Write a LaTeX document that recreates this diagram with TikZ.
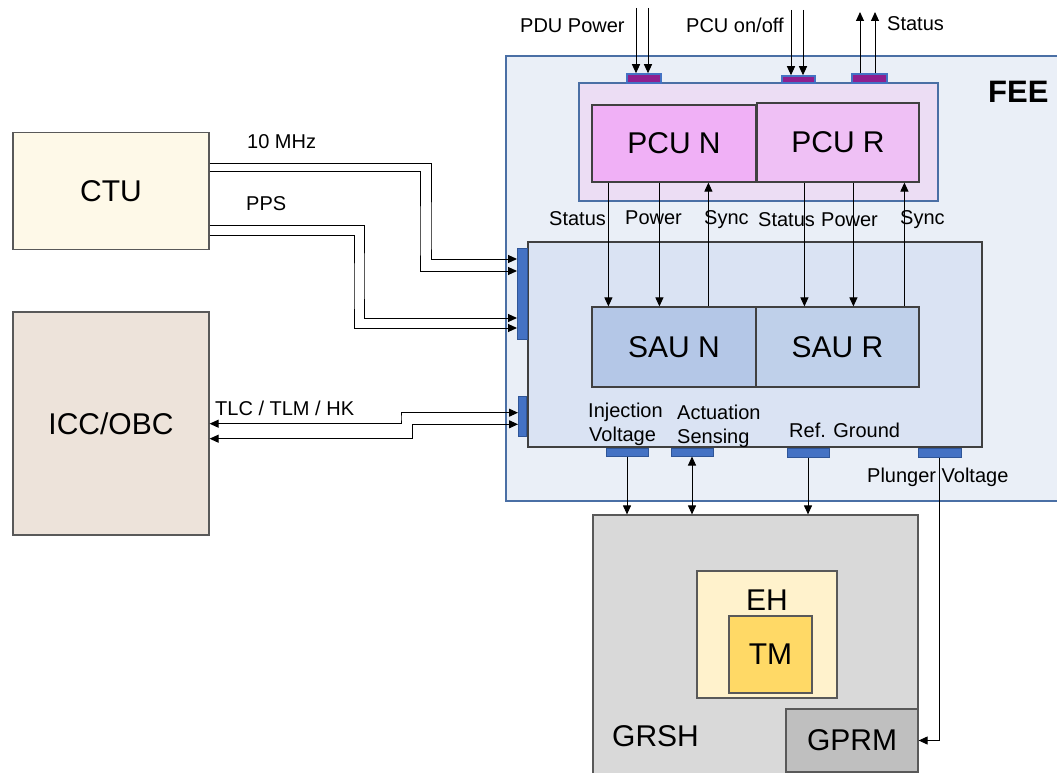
\documentclass[tikz,border=0pt]{standalone}
\usepackage{fontspec}
\setmainfont{Liberation Sans}
\usetikzlibrary{arrows.meta}
\definecolor{feefill}{HTML}{EAEFF7}
\definecolor{feeline}{HTML}{4A6FA5}
\definecolor{pcucfill}{HTML}{ECDDF4}
\definecolor{pcunfill}{HTML}{F0B0F6}
\definecolor{pcurfill}{HTML}{EFC0F5}
\definecolor{purp}{HTML}{8E1E8E}
\definecolor{conblue}{HTML}{4472C4}
\definecolor{conline}{HTML}{2F5597}
\definecolor{saucfill}{HTML}{DAE3F3}
\definecolor{saunfill}{HTML}{B4C7E7}
\definecolor{saurfill}{HTML}{BFD0EA}
\definecolor{ctufill}{HTML}{FEF9E8}
\definecolor{iccfill}{HTML}{EDE3DA}
\definecolor{grshfill}{HTML}{D9D9D9}
\definecolor{ehfill}{HTML}{FFF2CC}
\definecolor{tmfill}{HTML}{FFD966}
\definecolor{gprmfill}{HTML}{BFBFBF}
\definecolor{boxline}{HTML}{404040}
\definecolor{greyline}{HTML}{595959}
\begin{document}
\begin{tikzpicture}[x=1pt,y=-1pt,
  box/.style={draw=boxline, line width=1.2pt, inner sep=0pt, rectangle},
  big/.style={font=\fontsize{30}{36}\selectfont},
  lbl/.style={inner sep=0pt, anchor=base west, font=\fontsize{20}{24}\selectfont},
  pconn/.style={draw=conblue, fill=purp, line width=1.5pt, inner sep=0pt, rectangle},
  bconn/.style={draw=conline, fill=conblue, line width=1pt, inner sep=0pt, rectangle},
  arr/.style={line width=1pt, -{Triangle[length=9pt,width=8pt]}},
  darr/.style={line width=1pt, {Triangle[length=9pt,width=8pt]}-{Triangle[length=9pt,width=8pt]}},
]
\clip (0,0) rectangle (1057,773);
\fill[white] (0,0) rectangle (1057,773);

% left boxes
\node[box, draw=greyline, fill=ctufill, minimum width=196pt, minimum height=117pt, big] (ctu) at (111,191.3) {CTU};
\node[box, draw=greyline, fill=iccfill, minimum width=196pt, minimum height=223pt, big] (icc) at (111,423.4) {ICC/OBC};

% FEE
\node[draw=feeline, fill=feefill, line width=1.5pt, inner sep=0pt, minimum width=566pt, minimum height=445pt] (fee) at (789,278.5) {};
\node[anchor=base west, inner sep=0pt, font=\bfseries\fontsize{31}{36}\selectfont] (feelbl) at (988,103) {FEE};

% PCU
\node[draw=feeline, fill=pcucfill, line width=1.8pt, inner sep=0pt, minimum width=359pt, minimum height=118pt] (pcuc) at (758.5,142) {};
\node[box, fill=pcunfill, minimum width=164pt, minimum height=77pt, big] (pcun) at (674,143.5) {PCU N};
\node[box, fill=pcurfill, minimum width=162pt, minimum height=79pt, big] (pcur) at (838,142.5) {PCU R};

\node[pconn, minimum width=34pt, minimum height=9pt] (pducon) at (644,78.5) {};
\node[pconn, minimum width=33pt, minimum height=7pt] (onoffcon) at (798.5,79.5) {};
\node[pconn, minimum width=35pt, minimum height=9pt] (stcon) at (869.5,78.5) {};

% SAU
\node[box, fill=saucfill, minimum width=454pt, minimum height=205pt] (sauc) at (755,344.5) {};
\node[box, fill=saunfill, minimum width=164pt, minimum height=80pt, big] (saun) at (674,347) {SAU N};
\node[box, fill=saurfill, minimum width=163pt, minimum height=80pt, big] (saur) at (837.5,347) {SAU R};

\node[bconn, minimum width=10pt, minimum height=91pt] (ctucon) at (522.5,293.5) {};
\node[bconn, minimum width=8pt, minimum height=40pt] (tlccon) at (522.5,416.7) {};
\node[bconn, minimum width=42pt, minimum height=8pt] (injcon) at (627,452) {};
\node[bconn, minimum width=42pt, minimum height=8pt] (actcon) at (692,452) {};
\node[bconn, minimum width=42pt, minimum height=9pt] (refcon) at (808,453) {};
\node[bconn, minimum width=43pt, minimum height=9pt] (plgcon) at (939.5,452.5) {};

% GRSH
\node[box, draw=greyline, fill=grshfill, minimum width=325pt, minimum height=275pt] (grsh) at (755.5,652.5) {};
\node[anchor=base west, inner sep=0pt, big] (grshlbl) at (612,746.5) {GRSH};
\node[box, draw=greyline, fill=ehfill, minimum width=140pt, minimum height=127pt] (eh) at (767,634.5) {};
\node[anchor=base, inner sep=0pt, big] (ehlbl) at (767,610) {EH};
\node[box, draw=greyline, fill=tmfill, minimum width=83pt, minimum height=77pt, big] (tm) at (770.5,654.5) {TM};
\node[box, draw=greyline, fill=gprmfill, minimum width=132pt, minimum height=63pt, big] (gprm) at (852,740.5) {GPRM};

% top arrows
\coordinate (pduA) at (636,8);
\coordinate (pduB) at (648,8);
\coordinate (onA) at (791,10);
\coordinate (onB) at (803,10);
\coordinate (stA) at (860,12);
\coordinate (stB) at (875,12);
\draw[arr] (pduA) -- (pduA |- pducon.north);
\draw[arr] (pduB) -- (pduB |- pducon.north);
\draw[arr] (onA) -- (onA |- onoffcon.north);
\draw[arr] (onB) -- (onB |- onoffcon.north);
\draw[arr] (stA |- stcon.north) -- (stA);
\draw[arr] (stB |- stcon.north) -- (stB);

% PCU -> SAU
\coordinate (sN) at ([xshift=17pt]pcun.south west);
\coordinate (pN) at ([xshift=68pt]pcun.south west);
\coordinate (yN) at ([xshift=117pt]pcun.south west);
\coordinate (sR) at ([xshift=48pt]pcur.south west);
\coordinate (pR) at ([xshift=97pt]pcur.south west);
\coordinate (yR) at ([xshift=148pt]pcur.south west);
\draw[arr] (sN) -- (sN |- saun.north);
\draw[arr] (pN) -- (pN |- saun.north);
\draw[arr] (yN |- saun.north) -- (yN);
\draw[arr] (sR) -- (sR |- saur.north);
\draw[arr] (pR) -- (pR |- saur.north);
\draw[arr] (yR |- saur.north) -- (yR);

% CTU lines
\draw[arr] ([yshift=28pt]ctu.east) -| (431,240) |- ([yshift=34.5pt]ctucon.west);
\draw[arr] ([yshift=19.6pt]ctu.east) -| (420,240) |- ([yshift=22.5pt]ctucon.west);
\draw[arr] ([yshift=-33.7pt]ctu.east) -| (364,280) |- ([yshift=-24.5pt]ctucon.west);
\draw[arr] ([yshift=-43.7pt]ctu.east) -| (354,290) |- ([yshift=-34.5pt]ctucon.west);

% TLC lines
\draw[darr] ([yshift=-0.3pt]icc.east) -| (401,418) |- ([yshift=4pt]tlccon.west);
\draw[darr] ([yshift=-15.3pt]icc.east) -| (412.7,430) |- ([yshift=-7.6pt]tlccon.west);

% bottom arrows
\draw[arr] (injcon.south) -- (injcon.south |- grsh.north);
\draw[darr] (actcon.south) -- (actcon.south |- grsh.north);
\draw[arr] (refcon.south) -- (refcon.south |- grsh.north);
\draw[arr] (plgcon.south) |- (gprm.east);

% labels
\node[lbl] (lpdu) at (520,33) {PDU Power};
\node[lbl] (lonoff) at (686,33) {PCU on/off};
\node[lbl] (lstat) at (887,31) {Status};
\node[lbl] (l10) at (247,149) {10 MHz};
\node[lbl] (lpps) at (246,210) {PPS};
\node[lbl] (ltlc) at (215,415) {TLC / TLM / HK};
\node[lbl] (lsN) at (549,225.5) {Status};
\node[lbl] (lpN) at (625,224) {Power};
\node[lbl] (lyN) at (704,224) {Sync};
\node[lbl] (lsR) at (758,226.5) {Status};
\node[lbl] (lpR) at (821,226) {Power};
\node[lbl] (lyR) at (900,224) {Sync};
\node[lbl] (linj1) at (588,417) {Injection};
\node[lbl] (linj2) at (589,441) {Voltage};
\node[lbl] (lact1) at (677,419) {Actuation};
\node[lbl] (lact2) at (677,443) {Sensing};
\node[lbl] (lref) at (789,437) {Ref. Ground};
\node[lbl] (lplg) at (867,482) {Plunger Voltage};
\end{tikzpicture}
\end{document}
